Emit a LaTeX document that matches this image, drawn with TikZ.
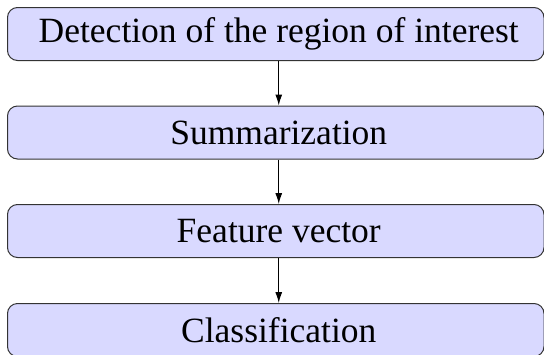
\documentclass[tikz,border=0pt]{standalone}
\usepackage{fontspec}
\setmainfont{Liberation Serif}
\usetikzlibrary{arrows.meta}
\begin{document}
\begin{tikzpicture}[x=1pt,y=1pt,
  stagebox/.style={draw=black!80, line width=1pt, fill=blue!15, rounded corners=10pt,
    minimum width=536.5pt, minimum height=53pt, inner sep=0pt,
    font=\fontsize{35.5}{40}\selectfont},
  flow/.style={-{Latex[length=11pt,width=7pt]}, line width=1.1pt}]
\useasboundingbox (0,0) rectangle (544,-354);
\node[stagebox] (d) at (275.75,-34) {\hspace*{6pt}Detection of the region of interest};
\node[stagebox] (s) at (275.75,-132.5) {\hspace*{6pt}Summarization};
\node[stagebox] (f) at (275.75,-231) {\hspace*{6pt}Feature vector};
\node[stagebox] (c) at (275.75,-330) {\hspace*{6pt}Classification};
\draw[flow] ([xshift=3pt]d.south) -- ([xshift=3pt]s.north);
\draw[flow] ([xshift=3pt]s.south) -- ([xshift=3pt]f.north);
\draw[flow] ([xshift=3pt]f.south) -- ([xshift=3pt]c.north);
\end{tikzpicture}
\end{document}
